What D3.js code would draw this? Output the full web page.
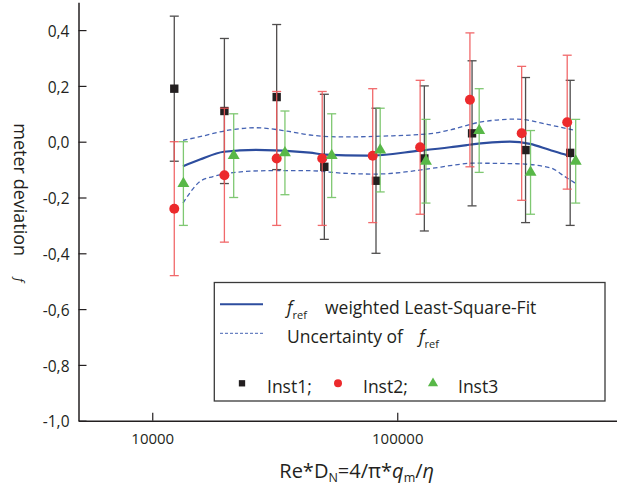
<!DOCTYPE html>
<html>
<head>
<meta charset="utf-8">
<script src="https://cdn.jsdelivr.net/npm/d3@7"></script>
<style>
  html, body { margin: 0; padding: 0; background: #fff; }
  svg { display: block; font-family: "Open Sans", "Noto Sans", sans-serif; }
  .axis path, .axis line { stroke: #231f20; }
  .axis text { fill: #231f20; }
</style>
</head>
<body>
<svg id="chart" width="617" height="487"></svg>
<script>
// Instrument 1 (squares)
const inst1X = [12300, 19700, 32200, 50400, 81900, 129000, 202000, 334000, 508000];
const inst1Y = [0.19, 0.11, 0.16, -0.09, -0.14, -0.06, 0.03, -0.03, -0.04];
const inst1Err = [0.26, 0.26, 0.26, 0.26, 0.26, 0.26, 0.26, 0.26, 0.26];

// Instrument 2 (circles)
const inst2X = [12300, 19700, 32200, 49400, 79400, 124000, 198000, 322000, 494000];
const inst2Y = [-0.24, -0.12, -0.06, -0.06, -0.05, -0.02, 0.15, 0.03, 0.07];
const inst2Err = [0.24, 0.24, 0.24, 0.24, 0.24, 0.24, 0.24, 0.24, 0.24];

// Instrument 3 (triangles)
const inst3X = [13400, 21500, 34800, 54000, 85200, 131000, 216000, 350000, 535000];
const inst3Y = [-0.15, -0.05, -0.04, -0.05, -0.03, -0.07, 0.04, -0.11, -0.07];
const inst3Err = [0.15, 0.15, 0.15, 0.15, 0.15, 0.15, 0.15, 0.15, 0.15];

// Weighted least-square fit f_ref and its uncertainty band
const fitX = [13350, 15650, 19600, 26500, 44000, 50400, 75200, 123800, 164100, 192500, 288400, 347900, 420100, 492700, 516600];
const fitY = [-0.088, -0.064, -0.036, -0.029, -0.039, -0.046, -0.050, -0.032, -0.020, -0.012, 0.000, -0.008, -0.030, -0.048, -0.053];
const upX = [13350, 15650, 20760, 26510, 35460, 44020, 60030, 87400, 139900, 164100, 223700, 308100, 420100, 521400];
const upY = [0.005, 0.018, 0.042, 0.050, 0.038, 0.024, 0.017, 0.020, 0.030, 0.042, 0.072, 0.081, 0.060, 0.042];
const loX = [13350, 15650, 17690, 21350, 29390, 44020, 60030, 81090, 139900, 164100, 203700, 308100, 420100, 483500, 531400];
const loY = [-0.220, -0.143, -0.125, -0.111, -0.104, -0.104, -0.113, -0.116, -0.095, -0.086, -0.077, -0.079, -0.093, -0.125, -0.148];

// Axis ticks
const yMajor = [0.4, 0.2, 0.0, -0.2, -0.4, -0.6, -0.8, -1.0];
const yMinor = [0.5, 0.3, 0.1, -0.1, -0.3, -0.5, -0.7, -0.9];
const xMajor = [10000, 100000];
const xMinor = [5000, 6000, 7000, 8000, 9000, 20000, 30000, 40000, 50000, 60000, 70000, 80000, 90000,
                200000, 300000, 400000, 500000, 600000, 700000, 800000];

const svg = d3.select("#chart");

const x = d3.scaleLog().domain([5000, 800000]).range([78.5, 618.5]);
const y = d3.scaleLinear().domain([-1, 0.5]).range([420.7, 2.2]);

const ink = "#231f20";
const fmtY = d => d.toFixed(1).replace(".", ",");

// ---- axes ----
const gy = svg.append("g").attr("class", "axis").attr("transform", `translate(${x.range()[0]},0)`);
gy.call(d3.axisLeft(y).tickValues(yMinor).tickSize(-4).tickSizeOuter(0).tickFormat(""));
gy.call(d3.axisLeft(y).tickValues(yMajor).tickSize(-8).tickSizeOuter(0).tickPadding(9).tickFormat(fmtY));
gy.selectAll("path").attr("stroke-width", 1.5);
gy.selectAll("line").attr("stroke-width", 1.2);
gy.selectAll("text").attr("font-size", 15.5).attr("font-family", "Open Sans").attr("dy", "0.4em");

const gx = svg.append("g").attr("class", "axis").attr("transform", `translate(0,${y.range()[0]})`);
gx.call(d3.axisBottom(x).tickValues(xMinor).tickSize(-4).tickSizeOuter(0).tickFormat(""));
gx.call(d3.axisBottom(x).tickValues(xMajor).tickSize(-8).tickSizeOuter(0).tickPadding(13).tickFormat(d3.format("d")));
gx.selectAll("path").attr("stroke-width", 1.5);
gx.selectAll("line").attr("stroke-width", 1.2);
gx.selectAll("text").attr("font-size", 15).attr("font-family", "Open Sans");

// ---- axis titles ----
const yTitle = svg.append("g").attr("transform", "translate(13.5,123.3) rotate(90)");
yTitle.append("text").attr("font-size", 18).attr("fill", ink).text("meter deviation");
svg.append("g").attr("transform", "translate(14.5,278) rotate(90)")
  .append("text").attr("font-size", 12.5).attr("font-style", "italic").attr("fill", ink).text("f");

const xTitle = svg.append("text").attr("x", 279.3).attr("y", 477.5).attr("font-size", 20).attr("fill", ink);
xTitle.append("tspan").text("Re*D");
xTitle.append("tspan").attr("font-size", 12.5).attr("dy", 4.5).text("N");
xTitle.append("tspan").attr("dy", -4.5).text("=4/\u03C0*");
xTitle.append("tspan").attr("font-style", "italic").text("q");
xTitle.append("tspan").attr("font-size", 12.5).attr("dy", 4.5).text("m");
xTitle.append("tspan").attr("dy", -4.5).text("/");
xTitle.append("tspan").attr("font-style", "italic").text("\u03B7");

// ---- fit curve and uncertainty band ----
const line = d3.line().x(d => x(d[0])).y(d => y(d[1])).curve(d3.curveMonotoneX);
const zip = (a, b) => a.map((v, i) => [v, b[i]]);
const blue = "#2d4d9e";
const dashBlue = "#4563b3";

svg.append("path").datum(zip(upX, upY)).attr("d", line)
  .attr("fill", "none").attr("stroke", dashBlue).attr("stroke-width", 1.3).attr("stroke-dasharray", "4.5,3");
svg.append("path").datum(zip(loX, loY)).attr("d", line)
  .attr("fill", "none").attr("stroke", dashBlue).attr("stroke-width", 1.3).attr("stroke-dasharray", "4.5,3");
svg.append("path").datum(zip(fitX, fitY)).attr("d", line)
  .attr("fill", "none").attr("stroke", blue).attr("stroke-width", 2.2);

// ---- error bars and markers ----
const series = [
  { xs: inst1X, ys: inst1Y, es: inst1Err, bar: "#3c3a3a", fill: "#231f20", sym: d3.symbolSquare, size: 70 },
  { xs: inst2X, ys: inst2Y, es: inst2Err, bar: "#f0595b", fill: "#ec2a2c", sym: d3.symbolCircle, size: 78 },
  { xs: inst3X, ys: inst3Y, es: inst3Err, bar: "#72c363", fill: "#58b848", sym: d3.symbolTriangle, size: 62 }
];

series.forEach(s => {
  const pts = s.xs.map((v, i) => ({ x: v, y: s.ys[i], e: s.es[i] }));
  const g = svg.append("g");
  const bars = g.selectAll("g.bar").data(pts).join("g").attr("class", "bar")
    .attr("stroke", s.bar).attr("stroke-width", 1.3).attr("opacity", 0.9);
  bars.append("line")
    .attr("x1", d => x(d.x)).attr("x2", d => x(d.x))
    .attr("y1", d => y(d.y + d.e)).attr("y2", d => y(d.y - d.e));
  bars.append("line")
    .attr("x1", d => x(d.x) - 4.5).attr("x2", d => x(d.x) + 4.5)
    .attr("y1", d => y(d.y + d.e)).attr("y2", d => y(d.y + d.e));
  bars.append("line")
    .attr("x1", d => x(d.x) - 4.5).attr("x2", d => x(d.x) + 4.5)
    .attr("y1", d => y(d.y - d.e)).attr("y2", d => y(d.y - d.e));
  g.selectAll("path.mk").data(pts).join("path").attr("class", "mk")
    .attr("d", d3.symbol().type(s.sym).size(s.size))
    .attr("transform", d => `translate(${x(d.x)},${y(d.y)})`)
    .attr("fill", s.fill);
});

// ---- legend ----
const lg = svg.append("g");
lg.append("rect").attr("x", 214.3).attr("y", 282.5).attr("width", 390.7).attr("height", 118.5)
  .attr("fill", "#fff").attr("stroke", "#3a3a3a").attr("stroke-width", 1.3);

lg.append("line").attr("x1", 220).attr("x2", 263).attr("y1", 304.3).attr("y2", 304.3)
  .attr("stroke", blue).attr("stroke-width", 2);
lg.append("line").attr("x1", 220).attr("x2", 263).attr("y1", 333.3).attr("y2", 333.3)
  .attr("stroke", dashBlue).attr("stroke-width", 1).attr("stroke-dasharray", "3,2");

function fref(xPos, yBase) {
  const t = lg.append("text").attr("x", xPos).attr("y", yBase).attr("fill", ink).attr("font-size", 17.5);
  t.append("tspan").attr("font-style", "italic").text("f");
  t.append("tspan").attr("font-size", 11).attr("dy", 5).text("ref");
}
fref(287, 314.3);
lg.append("text").attr("x", 325).attr("y", 314.3).attr("font-size", 17.5).attr("fill", ink)
  .text("weighted Least-Square-Fit");
lg.append("text").attr("x", 287).attr("y", 343.3).attr("font-size", 17.5).attr("fill", ink)
  .text("Uncertainty of");
fref(419, 343.3);

const legendItems = [
  { label: "Inst1;", sym: d3.symbolSquare, fill: "#231f20", size: 40, mx: 242, tx: 267 },
  { label: "Inst2;", sym: d3.symbolCircle, fill: "#ec2a2c", size: 50, mx: 338, tx: 363 },
  { label: "Inst3", sym: d3.symbolTriangle, fill: "#58b848", size: 45, mx: 433, tx: 458 }
];
legendItems.forEach(it => {
  lg.append("path").attr("d", d3.symbol().type(it.sym).size(it.size)())
    .attr("transform", `translate(${it.mx},383.3)`).attr("fill", it.fill);
  lg.append("text").attr("x", it.tx).attr("y", 393.3).attr("font-size", 17.5).attr("fill", ink).text(it.label);
});
</script>
</body>
</html>
